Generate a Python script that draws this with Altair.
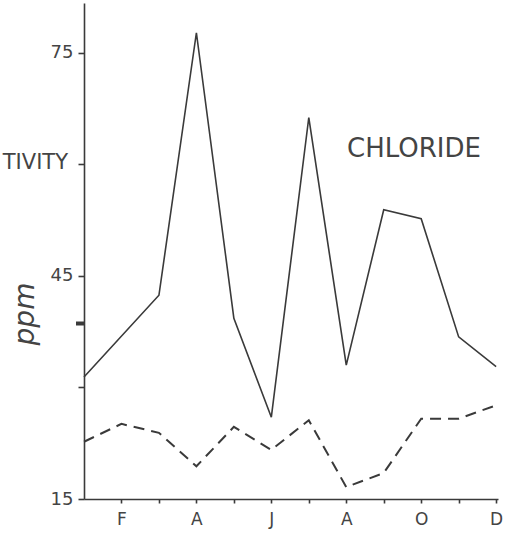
import altair as alt
import pandas as pd

# ---- data ----
month_letters = ["J", "F", "M", "A", "M", "J", "J", "A", "S", "O", "N", "D"]
labelled_months = [2, 4, 6, 8, 10, 12]
tick_months = [2, 3, 4, 5, 6, 7, 8, 9, 10, 11, 12]

solid_months = [1, 3, 4, 5, 6, 7, 8, 9, 10, 11, 12]
solid_values = [31.4, 42.4, 77.7, 39.3, 26.0, 66.3, 33.0, 53.9, 52.7, 36.8, 32.8]

dashed_months = [1, 2, 3, 4, 5, 6, 7, 8, 9, 10, 11, 12]
dashed_values = [22.7, 25.1, 23.9, 19.4, 24.7, 21.6, 25.6, 16.6, 18.5, 25.8, 25.8, 27.6]

y_ticks = [15, 30, 45, 60, 75]
y_labelled = [15, 45, 75]
side_label = "TIVITY"
side_label_value = 60
marker_value = 38.6
title_text = "CHLORIDE"
unit_text = "ppm"

solid_df = pd.DataFrame({"month": solid_months, "value": solid_values})
dashed_df = pd.DataFrame({"month": dashed_months, "value": dashed_values})

ink = "#3a3a3a"
font = "DejaVu Sans"

x_label_map = "{" + ",".join(f"'{m}':'{month_letters[m-1]}'" for m in labelled_months) + "}"
x_scale = alt.Scale(domain=[1, 12.05], nice=False, zero=False)
y_scale = alt.Scale(domain=[15, 81.7], nice=False, zero=False)

x_axis = alt.Axis(
    values=tick_months, title=None, grid=False,
    labelExpr=f"{x_label_map}[datum.value] || ''",
    domainColor=ink, domainWidth=1.6, tickColor=ink, tickWidth=1.6, tickSize=4,
    labelFont=font, labelFontSize=17, labelColor="#444", labelPadding=8,
)
y_cond = " || ".join(f"datum.value == {v}" for v in y_labelled)
y_axis = alt.Axis(
    values=y_ticks, title=None, grid=False,
    labelExpr=f"({y_cond}) ? datum.label : ''",
    domainColor=ink, domainWidth=1.6, tickColor=ink, tickWidth=1.6, tickSize=6,
    labelFont=font, labelFontSize=18, labelColor="#444", labelPadding=5,
)

solid = alt.Chart(solid_df).mark_line(color=ink, strokeWidth=1.6).encode(
    x=alt.X("month:Q", scale=x_scale, axis=x_axis),
    y=alt.Y("value:Q", scale=y_scale, axis=y_axis),
)
dashed = alt.Chart(dashed_df).mark_line(color=ink, strokeWidth=2, strokeDash=[11, 7]).encode(
    x=alt.X("month:Q", scale=x_scale),
    y=alt.Y("value:Q", scale=y_scale),
)

side_df = pd.DataFrame({"value": [side_label_value], "label": [side_label]})
side = alt.Chart(side_df).mark_text(
    align="right", baseline="middle", font=font, fontSize=21, color="#444", dy=-1
).encode(x=alt.value(-16), y=alt.Y("value:Q", scale=y_scale), text="label:N")

marker_df = pd.DataFrame({"value": [marker_value]})
marker = alt.Chart(marker_df).mark_rule(color=ink, strokeWidth=4).encode(
    x=alt.value(-8), x2=alt.value(0), y=alt.Y("value:Q", scale=y_scale)
)

title_df = pd.DataFrame({"t": [title_text]})
title = alt.Chart(title_df).mark_text(
    align="left", baseline="middle", font=font, fontSize=26, color="#444"
).encode(x=alt.value(263), y=alt.value(146), text="t:N")

unit_df = pd.DataFrame({"t": [unit_text]})
unit = alt.Chart(unit_df).mark_text(
    align="center", baseline="middle", font=font, fontSize=28, fontStyle="italic",
    color="#444", angle=270
).encode(x=alt.value(-58), y=alt.value(311), text="t:N")

chart = alt.layer(solid, dashed, side, marker, title, unit).properties(
    width=414, height=496,
    autosize=alt.AutoSizeParams(type="none"),
    padding={"left": 84, "top": 3, "right": 12, "bottom": 38},
    background="white",
).configure_view(stroke=None, strokeWidth=0)

chart.save("out.html", embed_options={"renderer": "svg", "actions": False})
